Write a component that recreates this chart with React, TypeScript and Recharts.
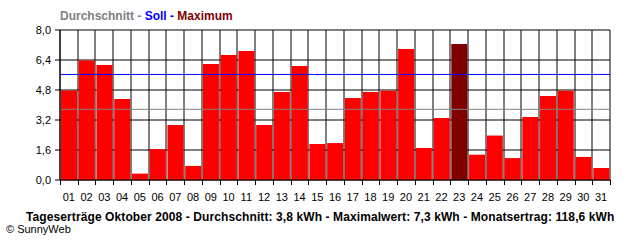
import { BarChart, Bar, XAxis, YAxis, CartesianGrid, ReferenceLine, Cell } from "recharts";

const days = [
  "01", "02", "03", "04", "05", "06", "07", "08", "09", "10",
  "11", "12", "13", "14", "15", "16", "17", "18", "19", "20",
  "21", "22", "23", "24", "25", "26", "27", "28", "29", "30", "31",
];
const yields = [
  4.78, 6.38, 6.13, 4.32, 0.34, 1.65, 2.93, 0.75, 6.19, 6.67,
  6.88, 2.93, 4.7, 6.08, 1.92, 1.97, 4.37, 4.69, 4.76, 6.99,
  1.71, 3.31, 7.25, 1.35, 2.37, 1.17, 3.36, 4.48, 4.76, 1.23, 0.64,
];
const yTicks = [0, 1.6, 3.2, 4.8, 6.4, 8.0];
const average = 3.77;
const target = 5.63;
const maxDay = "23";

const data = days.map((day, i) => ({ day, value: yields[i] }));

const FONT = '"Liberation Sans", Arial, sans-serif';
const PLOT_WIDTH = 550;
const PLOT_BOTTOM = 180;

function renderDayTick(props: any) {
  const { x, payload, index } = props;
  const band = PLOT_WIDTH / days.length;
  const left = Math.round(x - band / 2) + 0.5;
  const right = Math.round(x + band / 2) + 0.5;
  return (
    <g key={`tick-${index}`}>
      <line x1={left} x2={left} y1={PLOT_BOTTOM} y2={PLOT_BOTTOM + 5} stroke="#000" strokeWidth={1} />
      {index === days.length - 1 && (
        <line x1={right} x2={right} y1={PLOT_BOTTOM} y2={PLOT_BOTTOM + 5} stroke="#000" strokeWidth={1} />
      )}
      <text x={x} y={PLOT_BOTTOM + 21} textAnchor="middle" fontSize={11} fontFamily={FONT} fill="#000">
        {payload.value}
      </text>
    </g>
  );
}

export default function App() {
  return (
    <div style={{ position: "absolute", left: 0, top: 0, width: 640, height: 240, background: "#fff", fontFamily: FONT }}>
      <div
        style={{
          position: "absolute",
          left: 60,
          top: 10,
          fontSize: 12,
          lineHeight: "12px",
          fontWeight: "bold",
          whiteSpace: "nowrap",
        }}
      >
        <span style={{ color: "#808080" }}>Durchschnitt - </span>
        <span style={{ color: "#0000ff" }}>Soll - </span>
        <span style={{ color: "#800000" }}>Maximum</span>
      </div>
      <div style={{ position: "absolute", left: 0, top: 0 }}>
        <BarChart
          width={640}
          height={240}
          data={data}
          margin={{ top: 30, right: 30, bottom: 0, left: 0 }}
          barCategoryGap={1}
        >
          <CartesianGrid
            stroke="#000"
            strokeDasharray=""
            verticalCoordinatesGenerator={({ offset }: any) =>
              days
                .map((_, i) => Math.round(offset.left + (i * offset.width) / days.length))
                .concat(Math.round(offset.left + offset.width))
            }
          />
          <XAxis
            dataKey="day"
            height={60}
            interval={0}
            tickLine={false}
            axisLine={{ stroke: "#000" }}
            tick={renderDayTick}
          />
          <YAxis
            width={60}
            domain={[0, 8]}
            ticks={yTicks}
            interval={0}
            tickSize={5}
            tickMargin={4}
            axisLine={{ stroke: "#000" }}
            tickLine={{ stroke: "#000" }}
            tick={{ fontSize: 11, fontFamily: FONT, fill: "#000" }}
            tickFormatter={(v: number) => v.toFixed(1).replace(".", ",")}
          />
          <Bar dataKey="value" isAnimationActive={false}>
            {data.map((d) => (
              <Cell key={d.day} fill={d.day === maxDay ? "#800000" : "#ff0000"} />
            ))}
          </Bar>
          <ReferenceLine y={average} stroke="#808080" />
          <ReferenceLine y={target} stroke="#0000ff" />
        </BarChart>
      </div>
      <div
        style={{
          position: "absolute",
          left: 26,
          top: 211,
          fontSize: 12,
          lineHeight: "12px",
          fontWeight: "bold",
          letterSpacing: 0.1,
          whiteSpace: "nowrap",
        }}
      >
        Tageserträge Oktober 2008 - Durchschnitt: 3,8 kWh - Maximalwert: 7,3 kWh - Monatsertrag: 118,6 kWh
      </div>
      <div style={{ position: "absolute", left: 6, top: 224, fontSize: 11, lineHeight: "11px", whiteSpace: "nowrap" }}>
        © SunnyWeb
      </div>
    </div>
  );
}
